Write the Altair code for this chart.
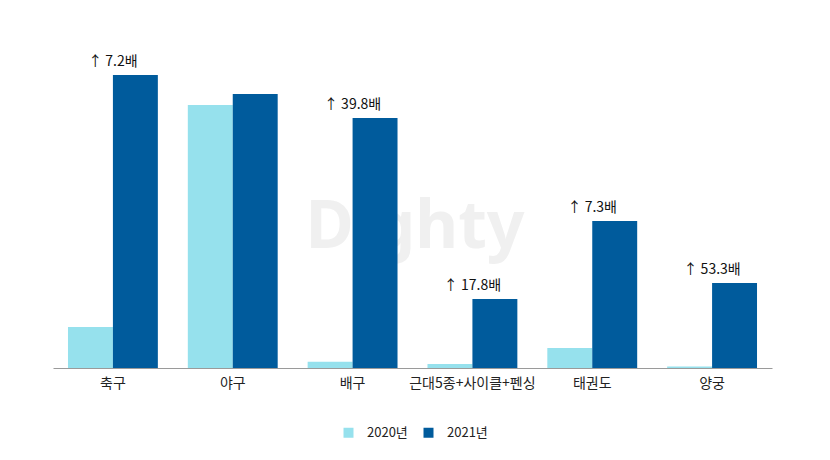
import altair as alt
import pandas as pd

categories = ["축구", "야구", "배구", "근대5종+사이클+펜싱", "태권도", "양궁"]
years = ["2020년", "2021년"]
v2020 = [41, 263, 6.3, 3.9, 20, 1.6]
v2021 = [293, 274, 250, 69, 147, 85]
labels = ["↑ 7.2배", "", "↑ 39.8배", "↑ 17.8배", "↑ 7.3배", "↑ 53.3배"]
colors = ["#96e1ed", "#005b9c"]

rows = []
for c, a, b in zip(categories, v2020, v2021):
    rows.append({"category": c, "year": years[0], "value": a})
    rows.append({"category": c, "year": years[1], "value": b})
df = pd.DataFrame(rows)
ann = pd.DataFrame({"category": categories, "value": v2021, "label": labels})
wm = pd.DataFrame({"t": ["Dighty"]})

FONT = "Noto Sans CJK KR"

x_enc = alt.X(
    "category:N",
    sort=categories,
    scale=alt.Scale(paddingInner=0.25, paddingOuter=0.125),
    axis=alt.Axis(
        title=None, labelAngle=0, ticks=False, domainColor="#9a9a9a",
        labelFontSize=14, labelPadding=8, labelColor="#222222",
        labelFont=FONT, labelLimit=300,
    ),
)
y_enc = alt.Y("value:Q", scale=alt.Scale(domain=[0, 320]), axis=None)

watermark = alt.Chart(wm).mark_text(
    font="Noto Sans", fontSize=66, fontWeight="bold", color="#f0f0f0"
).encode(text="t:N", x=alt.value(362), y=alt.value(180))

bars = alt.Chart(df).mark_bar().encode(
    x=x_enc,
    xOffset=alt.XOffset("year:N", sort=years),
    y=y_enc,
    color=alt.Color(
        "year:N",
        scale=alt.Scale(domain=years, range=colors),
        legend=alt.Legend(
            title=None, orient="none", direction="horizontal",
            legendX=289, legendY=378,
            symbolType="square", symbolSize=100, symbolStrokeWidth=0,
            labelFontSize=13, labelFont=FONT, labelColor="#222222",
            labelOffset=12, columnPadding=14,
        ),
    ),
)

text = alt.Chart(ann).mark_text(
    font=FONT, fontSize=14, baseline="bottom", dy=-6, color="#111111"
).encode(x=x_enc, y=y_enc, text="label:N")

chart = alt.layer(watermark, bars, text).properties(
    width=719, height=320,
    padding={"left": 45, "top": 40, "right": 10, "bottom": 10},
).configure_view(stroke=None)

chart.save("out.html", embed_options={"renderer": "svg", "actions": False})
